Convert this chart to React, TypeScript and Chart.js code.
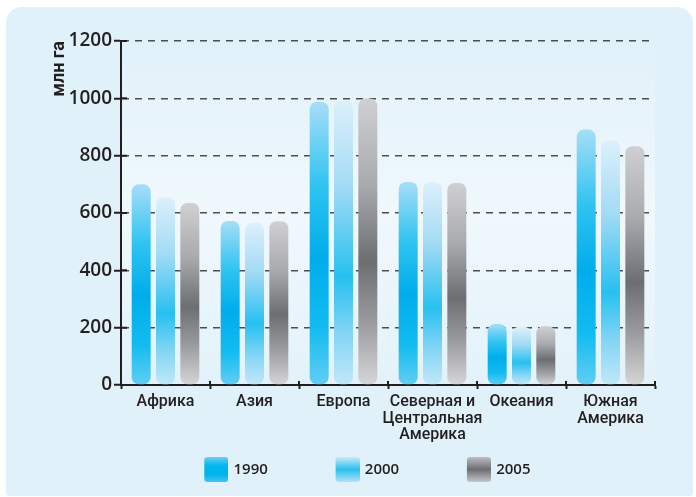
import React, { useEffect, useRef } from "react";
import { Chart, registerables } from "chart.js";

Chart.register(...registerables);

// ---- data ----
const categories: (string | string[])[] = [
  "Африка",
  "Азия",
  "Европа",
  ["Северная и", "Центральная", "Америка"],
  "Океания",
  ["Южная", "Америка"],
];
const seriesLabels = ["1990", "2000", "2005"];
const values1990 = [700, 572, 987, 708, 213, 891];
const values2000 = [655, 565, 992, 707, 203, 854];
const values2005 = [635, 571, 999, 705, 205, 833];
const yTicks = [0, 200, 400, 600, 800, 1000, 1200];
const yTitle = "млн га";

// ---- styles ----
const TEXT = "#231f20";
const barStops: [number, string][][] = [
  [[0, "#a6def7"], [0.3, "#2ec3f1"], [0.55, "#00adeb"], [0.8, "#12bcf0"], [1, "#62cef4"]],
  [[0, "#dcf0fb"], [0.3, "#a3dbf5"], [0.62, "#27c0f0"], [0.82, "#84d5f5"], [1, "#c2e8f9"]],
  [[0, "#d0d0d2"], [0.3, "#a9aaad"], [0.57, "#6d6e71"], [0.78, "#9a9b9e"], [1, "#d6d6d8"]],
];
const legendStops: [number, string][][] = [
  [[0, "#6bcff4"], [0.35, "#00b6ee"], [0.7, "#00b3ed"], [1, "#45c5f2"]],
  [[0, "#c8e9f9"], [0.5, "#2ac1f0"], [1, "#b3e1f7"]],
  [[0, "#bdbec0"], [0.5, "#6d6e71"], [1, "#c6c7c9"]],
];
const LEGEND_PAD = 14;
const LEGEND_BW = 75.5;
const SWATCH_W = 24;
const SWATCH_H = 25;

function makeGrad(ctx: CanvasRenderingContext2D, y0: number, y1: number, stops: [number, string][]) {
  const g = ctx.createLinearGradient(0, y0, 0, y1);
  stops.forEach(([o, c]) => g.addColorStop(o, c));
  return g;
}

function makeSwatch(stops: [number, string][]) {
  const c = document.createElement("canvas");
  c.width = LEGEND_BW + 5;
  c.height = SWATCH_H;
  const g = c.getContext("2d")!;
  g.fillStyle = makeGrad(g, 0, SWATCH_H, stops);
  g.beginPath();
  (g as any).roundRect(c.width - SWATCH_W, 0, SWATCH_W, SWATCH_H, 3);
  g.fill();
  return c;
}

const plotBg = {
  id: "plotBg",
  beforeDraw(chart: any) {
    const { ctx, chartArea: a } = chart;
    if (!a) return;
    const g = ctx.createLinearGradient(0, a.top, 0, a.bottom);
    g.addColorStop(0, "#e1f1fa");
    g.addColorStop(0.5, "#f0f8fd");
    g.addColorStop(1, "#e3f2fa");
    ctx.save();
    ctx.fillStyle = g;
    ctx.fillRect(a.left, a.top - 12, a.right - a.left, a.bottom - a.top + 12);
    ctx.restore();
  },
};

const crossTicks = {
  id: "crossTicks",
  afterDraw(chart: any) {
    const { ctx, chartArea: a, scales } = chart;
    ctx.save();
    ctx.strokeStyle = TEXT;
    ctx.lineWidth = 2;
    ctx.beginPath();
    yTicks.forEach((v) => {
      const y = scales.y.getPixelForValue(v);
      ctx.moveTo(a.left, y);
      ctx.lineTo(a.left + 6, y);
    });
    for (let i = 0; i <= categories.length; i++) {
      const x = scales.x.getPixelForValue(i - 0.5);
      ctx.moveTo(x, a.bottom);
      ctx.lineTo(x, a.bottom - 4);
    }
    ctx.stroke();
    ctx.restore();
  },
};

export default function App() {
  const ref = useRef<HTMLCanvasElement | null>(null);

  useEffect(() => {
    const canvas = ref.current;
    if (!canvas) return;
    const series = [values1990, values2000, values2005];
    const swatches = legendStops.map((s) => makeSwatch(s));
    const chart = new Chart(canvas, {
      type: "bar",
      data: {
        labels: categories as any,
        datasets: series.map((vals, si) => ({
          label: seriesLabels[si],
          data: vals,
          backgroundColor: (c: any) => {
            const ch = c.chart;
            if (c.type !== "data" || !ch.chartArea) return barStops[si][2][1];
            const v = c.parsed ? c.parsed.y : c.raw;
            const top = ch.scales.y.getPixelForValue(v);
            const bottom = ch.scales.y.getPixelForValue(0);
            return makeGrad(ch.ctx, top, bottom, barStops[si]);
          },
          borderWidth: 0,
          borderRadius: 7,
          borderSkipped: false,
          categoryPercentage: 0.82,
          barPercentage: 0.78,
        })),
      },
      options: {
        responsive: false,
        animation: false,
        devicePixelRatio: 1,
        layout: { padding: { left: 0, right: 15, top: 41, bottom: 10 } },
        plugins: {
          tooltip: { enabled: false },
          legend: {
            display: true,
            position: "bottom",
            labels: {
              usePointStyle: true,
              pointStyleWidth: LEGEND_BW,
              padding: LEGEND_PAD,
              color: TEXT,
              font: { family: '"Open Sans", sans-serif', size: 15, weight: 600 as any },
              generateLabels: () =>
                seriesLabels.map((t, i) => ({
                  text: t,
                  pointStyle: swatches[i] as any,
                  fillStyle: "rgba(0,0,0,0)",
                  strokeStyle: "rgba(0,0,0,0)",
                  lineWidth: 0,
                  hidden: false,
                  datasetIndex: i,
                  fontColor: TEXT,
                })),
            },
          },
        },
        scales: {
          x: {
            grid: {
              display: true,
              offset: true,
              drawOnChartArea: false,
              drawTicks: true,
              tickLength: 4,
              tickColor: TEXT,
              tickWidth: 2,
            },
            border: { display: true, color: TEXT, width: 2 },
            ticks: {
              color: TEXT,
              padding: 5,
              maxRotation: 0,
              autoSkip: false,
              font: {
                family: 'Roboto, "Noto Sans", sans-serif',
                size: 16,
                weight: 500 as any,
                lineHeight: "16.5px",
              },
            },
            afterFit: (s: any) => {
              s.height = 63;
            },
          },
          y: {
            min: 0,
            max: 1200,
            afterBuildTicks: (s: any) => {
              s.ticks = yTicks.map((v) => ({ value: v }));
            },
            grid: {
              color: (c: any) => (c.tick && c.tick.value === 0 ? "rgba(0,0,0,0)" : "#4d4e50"),
              lineWidth: 1.5,
              drawTicks: true,
              tickLength: 7,
              tickColor: TEXT,
              tickWidth: 2,
              tickBorderDash: [],
            },
            border: { display: true, color: TEXT, width: 2, dash: [7, 6] },
            ticks: {
              color: TEXT,
              padding: 2,
              callback: (v: any) => String(v),
              font: { family: '"Open Sans", sans-serif', size: 19, weight: 600 as any },
            },
            title: {
              display: true,
              text: yTitle,
              align: "end",
              color: TEXT,
              padding: { top: 50, bottom: 0 },
              font: {
                family: 'Roboto, "Noto Sans", sans-serif',
                size: 18,
                weight: "bold",
                lineHeight: 1,
              },
            },
            afterFit: (s: any) => {
              s.width = 121;
            },
          },
          y2: {
            type: "linear",
            position: "right",
            display: true,
            grid: { display: false, drawTicks: false },
            border: { display: false },
            ticks: { display: false },
            afterFit: (s: any) => {
              s.width = 26;
            },
          },
        },
      },
      plugins: [plotBg, crossTicks],
    });
    return () => chart.destroy();
  }, []);

  return (
    <div
      style={{
        position: "fixed",
        left: 0,
        top: 0,
        width: 696,
        height: 497,
        background: "#ffffff",
        overflow: "hidden",
      }}
    >
      <div
        style={{
          position: "absolute",
          left: 6,
          top: 7,
          width: 687,
          height: 489,
          background: "#e0f1fa",
          borderRadius: "16px 16px 3px 3px",
        }}
      />
      <canvas
        ref={ref}
        width={696}
        height={497}
        style={{ position: "absolute", left: 0, top: 0, width: 696, height: 497 }}
      />
    </div>
  );
}
